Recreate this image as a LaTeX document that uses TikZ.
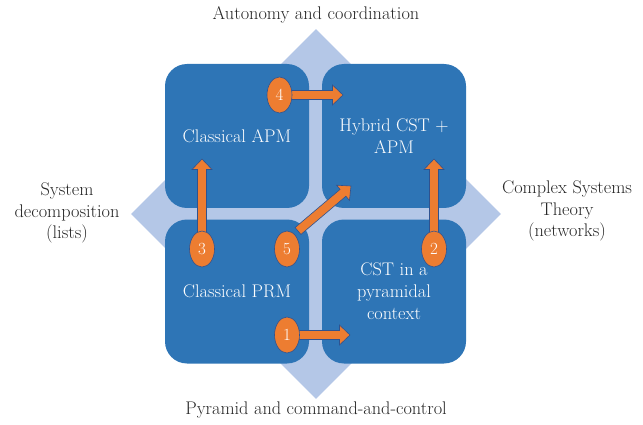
\documentclass[tikz,border=0pt]{standalone}
\usetikzlibrary{calc,shapes.geometric}
\definecolor{boxblue}{HTML}{2E75B6}
\definecolor{diamblue}{HTML}{B4C7E7}
\definecolor{arrorange}{HTML}{ED7D31}
\definecolor{outl}{HTML}{2F528F}
\definecolor{labgray}{HTML}{262626}
\pgfdeclarelayer{bg}
\pgfdeclarelayer{arr}
\pgfsetlayers{bg,arr,main}
\begin{document}
\begin{tikzpicture}[x=1pt,y=-1pt,
  lab/.style={text=labgray, align=center, font=\fontsize{18.3}{21.5}\selectfont, inner sep=0pt},
  quad/.style={rectangle, rounded corners=22pt, fill=boxblue, minimum width=144pt, minimum height=144pt, inner sep=0pt, text=white, align=center, font=\fontsize{18.3}{22}\selectfont},
  dia/.style={diamond, fill=diamblue, minimum width=370pt, minimum height=370pt, inner sep=0pt},
  num/.style={ellipse, fill=arrorange, draw=outl, line width=0.6pt, minimum width=25pt, minimum height=36pt, inner sep=0pt, text=white, font=\fontsize{17}{20}\selectfont},
  blockarrow/.style={fill=arrorange, draw=outl, line width=0.6pt, line join=miter,
    to path={let \p1=($(\tikztotarget)-(\tikztostart)$), \p2=(\tikztostart), \n1={veclen(\x1,\y1)}, \n2={atan2(\y1,\x1)}, \n3={\n1-10.5} in
      ([shift={(\p2)},rotate=\n2]0pt,4.5pt)
      -- ([shift={(\p2)},rotate=\n2]{\n3*1pt},4.5pt)
      -- ([shift={(\p2)},rotate=\n2]{\n3*1pt},10pt)
      -- ([shift={(\p2)},rotate=\n2]{\n1*1pt},0pt)
      -- ([shift={(\p2)},rotate=\n2]{\n3*1pt},-10pt)
      -- ([shift={(\p2)},rotate=\n2]{\n3*1pt},-4.5pt)
      -- ([shift={(\p2)},rotate=\n2]0pt,-4.5pt) -- cycle}}
]
\useasboundingbox (0,0) rectangle (643,425);
\begin{pgfonlayer}{bg}
\node[dia] (d) at (316,214) {};
\node[quad] (tl) at (237,136) {Classical APM};
\node[quad] (tr) at (394,136) {Hybrid CST +\\APM};
\node[quad] (bl) at (237,291.5) {Classical PRM};
\node[quad] (br) at (394,291.5) {CST in a\\pyramidal\\context};
\end{pgfonlayer}

\node[lab] (top) at (316,15) {Autonomy and coordination};
\node[lab] (bot) at (316,410) {Pyramid and command-and-control};
\node[lab] (lft) at (67,213) {System\\decomposition\\(lists)};
\node[lab] (rgt) at (567,211) {Complex Systems\\Theory\\(networks)};

\node[num] (e4) at (279.5,95) {4};
\node[num] (e3) at (202,249) {3};
\node[num] (e5) at (287,249) {5};
\node[num] (e2) at (434,249) {2};
\node[num] (e1) at (287,335) {1};

\coordinate (t4) at (343,95);
\coordinate (t3) at (202,159);
\coordinate (t2) at (434,159);
\coordinate (t5) at (351,186);
\coordinate (t1) at (350,335);
\coordinate (s5) at (298,231);

\begin{pgfonlayer}{arr}
\draw[blockarrow] (e4.center) to (t4);
\draw[blockarrow] (e3.center) to (t3);
\draw[blockarrow] (e2.center) to (t2);
\draw[blockarrow] (e1.center) to (t1);
\draw[blockarrow] (s5) to (t5);
\end{pgfonlayer}
\end{tikzpicture}
\end{document}
